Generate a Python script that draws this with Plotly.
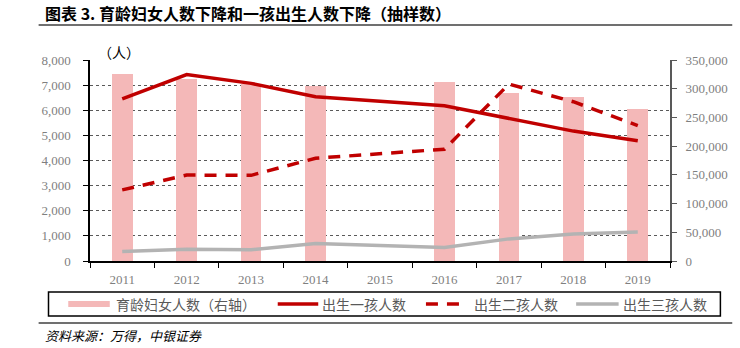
import plotly.graph_objects as go

# Data (sampled survey counts)
years = ["2011", "2012", "2013", "2014", "2015", "2016", "2017", "2018", "2019"]
women_childbearing_age = [325000, 317000, 309000, 305000, None, 311000, 292500, 285000, 264500]
first_child_births = [6450, 7420, 7070, 6540, None, 6180, 5690, 5170, 4790]
second_child_births = [2830, 3420, 3410, 4090, None, 4450, 7040, 6340, 5390]
third_child_births = [380, 465, 450, 700, None, 540, 880, 1075, 1150]

legend_labels = ["育龄妇女人数（右轴）", "出生一孩人数", "出生二孩人数", "出生三孩人数"]

W, H = 740, 348
L, R, T, B = 90, 63, 60, 87
PW, PH = W - L - R, H - T - B

BAR_COLOR = "#F4B8B8"
RED = "#C00000"
GREY = "#B3B3B3"
TICK_FONT = dict(family="Liberation Serif", size=13, color="#7F7F7F")
CJK = "Noto Sans CJK SC"


def px_x(px):
    return (px - L) / PW


def px_y(py):
    return (H - B - py) / PH


fig = go.Figure()

fig.add_trace(go.Bar(
    x=years, y=women_childbearing_age, name=legend_labels[0],
    marker=dict(color=BAR_COLOR, line=dict(width=0)), width=0.32,
    xaxis="x", yaxis="y", showlegend=False,
))
fig.add_trace(go.Scatter(
    x=years, y=first_child_births, name=legend_labels[1], mode="lines",
    line=dict(color=RED, width=3.5), connectgaps=True,
    xaxis="x", yaxis="y2", showlegend=False,
))
fig.add_trace(go.Scatter(
    x=years, y=second_child_births, name=legend_labels[2], mode="lines",
    line=dict(color=RED, width=3.5, dash="12px,9px"), connectgaps=True,
    xaxis="x", yaxis="y2", showlegend=False,
))
fig.add_trace(go.Scatter(
    x=years, y=third_child_births, name=legend_labels[3], mode="lines",
    line=dict(color=GREY, width=3.5), connectgaps=True,
    xaxis="x", yaxis="y2", showlegend=False,
))

shapes = []
annotations = []

# Title and rules
annotations.append(dict(
    text="<b>图表 3. 育龄妇女人数下降和一孩出生人数下降（抽样数）</b>",
    xref="paper", yref="paper", x=px_x(42), y=px_y(13),
    xanchor="left", yanchor="middle", showarrow=False,
    font=dict(family=CJK, size=16, color="#000000"),
))
shapes.append(dict(type="line", xref="paper", yref="paper",
                   x0=px_x(38), x1=px_x(740), y0=px_y(25), y1=px_y(25),
                   line=dict(color="#404040", width=1.5)))
shapes.append(dict(type="line", xref="paper", yref="paper",
                   x0=px_x(38), x1=px_x(740), y0=px_y(323), y1=px_y(323),
                   line=dict(color="#404040", width=1.5)))

# Unit label
annotations.append(dict(
    text="（人）", xref="paper", yref="paper", x=px_x(96), y=px_y(52),
    xanchor="left", yanchor="middle", showarrow=False,
    font=dict(family=CJK, size=14, color="#000000"),
))

# Source note
annotations.append(dict(
    text="<i>资料来源：万得，中银证券</i>", xref="paper", yref="paper",
    x=px_x(42), y=px_y(335), xanchor="left", yanchor="middle", showarrow=False,
    font=dict(family=CJK, size=13, color="#000000"),
))

# Legend box
shapes.append(dict(type="rect", xref="paper", yref="paper",
                   x0=px_x(48), x1=px_x(728), y0=px_y(292), y1=px_y(316),
                   line=dict(color="#000000", width=1.5), fillcolor="rgba(0,0,0,0)"))
ly = px_y(304)
# bar swatch
shapes.append(dict(type="rect", xref="paper", yref="paper",
                   x0=px_x(68), x1=px_x(110), y0=px_y(301), y1=px_y(307),
                   line=dict(width=0), fillcolor=BAR_COLOR))
shapes.append(dict(type="line", xref="paper", yref="paper",
                   x0=px_x(280), x1=px_x(321), y0=ly, y1=ly,
                   line=dict(color=RED, width=3.5)))
shapes.append(dict(type="line", xref="paper", yref="paper",
                   x0=px_x(430), x1=px_x(469), y0=ly, y1=ly,
                   line=dict(color=RED, width=3.5, dash="12px,9px")))
shapes.append(dict(type="line", xref="paper", yref="paper",
                   x0=px_x(582), x1=px_x(625), y0=ly, y1=ly,
                   line=dict(color=GREY, width=3.5)))
for label, tx in zip(legend_labels, [114, 323, 477, 627]):
    annotations.append(dict(
        text=label, xref="paper", yref="paper", x=px_x(tx), y=ly,
        xanchor="left", yanchor="middle", showarrow=False,
        font=dict(family=CJK, size=14, color="#595959"),
    ))

fig.update_layout(
    width=W, height=H,
    margin=dict(l=L, r=R, t=T, b=B, pad=0),
    paper_bgcolor="#FFFFFF", plot_bgcolor="#FFFFFF",
    showlegend=False,
    bargap=0,
    xaxis=dict(
        type="category", categoryorder="array", categoryarray=years,
        range=[-0.5, len(years) - 0.5],
        tickson="boundaries", ticks="outside", ticklen=5, tickwidth=1,
        tickcolor="#000000", showline=True, linecolor="#000000", linewidth=1.5,
        showgrid=False, tickfont=TICK_FONT, ticklabelstandoff=6,
        fixedrange=True,
    ),
    yaxis=dict(
        side="right", range=[0, 350000], dtick=50000, tickformat=",",
        ticks="outside", ticklen=5, tickwidth=1, tickcolor="#595959",
        showline=True, linecolor="#595959", linewidth=2,
        showgrid=False, zeroline=False, tickfont=TICK_FONT,
        ticklabelstandoff=6, anchor="x",
    ),
    yaxis2=dict(
        overlaying="y", side="left", range=[0, 8000], dtick=1000, tickformat=",",
        ticks="outside", ticklen=5, tickwidth=1, tickcolor="#000000",
        showline=True, linecolor="#000000", linewidth=1.5,
        showgrid=True, gridcolor="#595959", gridwidth=1, griddash="dot",
        zeroline=False, tickfont=TICK_FONT, ticklabelstandoff=10, anchor="x",
    ),
    shapes=shapes,
    annotations=annotations,
)

fig.write_html("out.html")
